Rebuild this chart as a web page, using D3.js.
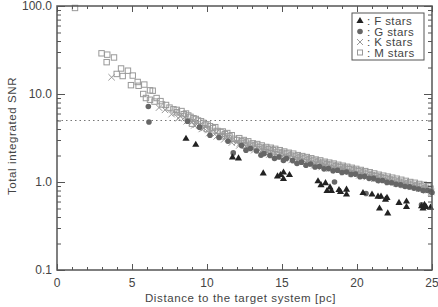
<!DOCTYPE html>
<html>
<head>
<meta charset="utf-8">
<script src="https://cdn.jsdelivr.net/npm/d3@7"></script>
<style>
  body { margin: 0; background: #fff; }
  text { font-family: "Liberation Sans", "DejaVu Sans", sans-serif; fill: #444; }
</style>
</head>
<body>
<svg id="chart"></svg>
<script>
// distance [pc], total integrated SNR
const fStars = [
  [8.6, 3.1], [9.25, 2.65], [11.7, 1.9], [12.1, 1.85], [13.75, 1.25], [14.7, 1.16],
  [14.9, 1.2], [15.1, 1.28], [15.1, 1.08], [15.5, 1.2], [17.4, 1.02], [17.6, 0.92],
  [17.9, 0.97], [18.0, 0.79], [18.2, 0.87], [18.3, 0.79], [18.8, 0.81], [18.9, 0.77],
  [19.3, 0.82], [19.3, 0.72], [20.4, 0.75], [21.0, 0.72], [21.4, 0.68], [21.5, 0.5],
  [21.6, 0.68], [21.9, 0.63], [22.0, 0.66], [22.05, 0.44], [22.8, 0.58], [23.3, 0.6],
  [23.3, 0.52], [24.3, 0.53], [24.4, 0.5], [24.5, 0.55], [24.6, 0.52], [24.9, 0.51]
];
const gStars = [
  [6.09, 7.2], [6.13, 4.8], [8.7, 4.9], [9.5, 4.2], [10.2, 3.4], [10.8, 3.2], [11.4, 2.9],
  [11.75, 2.14], [12.3, 2.6], [12.9, 2.4], [13.3, 2.25], [13.8, 2.1], [14.2, 2.0],
  [14.8, 1.92], [15.3, 1.85], [15.7, 1.75], [16.3, 1.68], [16.9, 1.6], [17.5, 1.5],
  [18.1, 1.42], [18.5, 1.0], [18.7, 1.36], [19.3, 1.3], [19.9, 1.23], [20.5, 1.16],
  [20.6, 0.74], [21.1, 1.1], [21.7, 1.04], [22.3, 0.98], [22.9, 0.93], [23.5, 0.88],
  [24.1, 0.83], [24.3, 0.55], [24.5, 0.53], [24.7, 0.8], [24.9, 0.78],
  [12.6, 2.3], [13.6, 2.02], [14.5, 1.85], [15.1, 1.76], [16.0, 1.62], [16.6, 1.55],
  [17.2, 1.48], [17.8, 1.41], [18.4, 1.34], [19.0, 1.28], [19.6, 1.22], [20.2, 1.15],
  [20.8, 1.1], [21.4, 1.04], [22.0, 0.99], [22.6, 0.94], [23.2, 0.89], [23.8, 0.85],
  [24.4, 0.8], [25.0, 0.76]
];
const kStars = [
  [3.64, 15.5], [7.64, 5.9], [6.8, 7.0], [7.2, 6.6], [7.9, 6.1], [8.2, 5.6], [8.5, 5.4],
  [8.8, 5.0], [9.0, 4.8], [9.3, 4.5], [9.5, 4.4], [9.8, 4.1], [10.1, 3.9], [10.3, 3.8],
  [10.6, 3.6], [10.8, 3.45], [11.1, 3.3], [11.4, 3.15], [11.7, 3.0], [12.0, 2.85],
  [12.2, 2.75], [12.5, 2.65], [12.8, 2.55], [13.1, 2.45], [13.4, 2.38], [13.7, 2.3],
  [14.0, 2.22], [14.3, 2.15], [14.6, 2.1], [14.9, 2.04], [15.2, 1.98], [15.5, 1.93],
  [15.8, 1.88], [16.1, 1.82], [16.4, 1.77], [16.7, 1.72], [17.0, 1.67], [17.3, 1.62],
  [17.6, 1.58], [17.9, 1.54], [18.2, 1.5], [18.5, 1.46], [18.8, 1.42], [19.1, 1.39],
  [19.4, 1.35], [19.7, 1.31], [20.0, 1.28], [20.3, 1.24], [20.6, 1.2], [20.9, 1.16],
  [21.2, 1.13], [21.5, 1.1], [21.8, 1.07], [22.1, 1.04], [22.4, 1.01], [22.7, 0.98],
  [23.0, 0.95], [23.3, 0.93], [23.6, 0.9], [23.9, 0.88], [24.2, 0.85], [24.5, 0.83],
  [24.8, 0.81],
  [8.1, 5.3], [8.65, 4.9], [9.15, 4.4], [9.65, 4.0], [10.15, 3.6], [10.65, 3.3],
  [11.15, 3.05], [11.65, 2.8], [12.15, 2.6], [12.65, 2.45], [13.15, 2.3], [13.65, 2.15],
  [14.15, 2.05], [14.65, 1.95], [15.15, 1.86], [15.65, 1.78], [16.15, 1.7], [16.65, 1.62],
  [17.15, 1.55], [17.65, 1.48], [18.15, 1.42], [18.65, 1.36], [19.15, 1.3], [19.65, 1.24],
  [20.15, 1.19], [20.65, 1.14], [21.15, 1.09], [21.65, 1.04], [22.15, 1.0], [22.65, 0.96],
  [23.15, 0.92], [23.65, 0.88], [24.15, 0.84], [24.65, 0.8], [24.95, 0.77]
];
const mStars = [
  [1.2, 95], [2.97, 29], [3.35, 28], [3.31, 23], [3.8, 26], [4.27, 19.5], [3.98, 16.9],
  [4.38, 16], [4.73, 18.4], [5.05, 16.2], [4.93, 12.6], [5.38, 13.7], [5.44, 12.4],
  [5.82, 12.8], [5.75, 10], [5.93, 9.0], [6.2, 11], [6.38, 10.9], [6.2, 8.6], [6.64, 9.0],
  [6.9, 8.3], [7.27, 7.5], [7.76, 6.7], [7.98, 6.6], [6.5, 8.2], [7.0, 7.6], [7.5, 7.0],
  [8.3, 6.4], [8.6, 6.0], [8.9, 5.5], [9.1, 5.3], [9.4, 5.0], [9.6, 4.9], [9.9, 4.5],
  [10.2, 4.3], [10.4, 4.1], [10.7, 3.8], [10.9, 3.7], [11.2, 3.5], [11.5, 3.3], [11.8, 3.1],
  [12.0, 3.0], [12.3, 2.9], [12.6, 2.8], [12.9, 2.65], [13.2, 2.6], [13.5, 2.5], [13.8, 2.4],
  [14.1, 2.35], [14.4, 2.3], [14.7, 2.2], [15.0, 2.15], [15.3, 2.1], [15.6, 2.0], [15.9, 1.95],
  [16.2, 1.9], [16.5, 1.85], [16.8, 1.8], [17.1, 1.75], [17.4, 1.7], [17.7, 1.65], [18.0, 1.6],
  [18.3, 1.57], [18.6, 1.52], [18.9, 1.48], [19.2, 1.45], [19.5, 1.4], [19.8, 1.37],
  [20.1, 1.33], [20.4, 1.28], [20.7, 1.24], [21.0, 1.2], [21.3, 1.17], [21.6, 1.13],
  [21.9, 1.1], [22.2, 1.07], [22.5, 1.04], [22.8, 1.01], [23.1, 0.98], [23.4, 0.96],
  [23.7, 0.93], [24.0, 0.91], [24.3, 0.89], [24.6, 0.86], [24.9, 0.84],
  [9.0, 4.6], [10.0, 4.0], [11.0, 3.3], [12.5, 2.6], [13.9, 2.2], [16.0, 1.75],
  [17.5, 1.58], [19.0, 1.38], [21.2, 1.1], [23.0, 0.93], [24.5, 0.82],
  [8.0, 6.2], [8.45, 5.9], [8.75, 5.7], [9.25, 5.2], [9.75, 4.7], [10.05, 4.5], [10.55, 4.2],
  [11.05, 3.75], [11.35, 3.6], [11.65, 3.4], [12.15, 3.15], [12.45, 3.0], [12.75, 2.9],
  [13.05, 2.75], [13.35, 2.7], [13.65, 2.6], [13.95, 2.5], [14.25, 2.45], [14.55, 2.38],
  [14.85, 2.3], [15.15, 2.22], [15.45, 2.15], [15.75, 2.1], [16.05, 2.02], [16.35, 1.97],
  [16.65, 1.92], [16.95, 1.86], [17.25, 1.8], [17.55, 1.76], [17.85, 1.7], [18.15, 1.66],
  [18.45, 1.62], [18.75, 1.57], [19.05, 1.53], [19.35, 1.49], [19.65, 1.45], [19.95, 1.41],
  [20.25, 1.37], [20.55, 1.33], [20.85, 1.29], [21.15, 1.25], [21.45, 1.21], [21.75, 1.18],
  [22.05, 1.15], [22.35, 1.12], [22.65, 1.09], [22.95, 1.06], [23.25, 1.03], [23.55, 1.0],
  [23.85, 0.98], [24.15, 0.95], [24.45, 0.93], [24.75, 0.9]
];
const xTicks = [0, 5, 10, 15, 20, 25];
const yTicks = [0.1, 1, 10, 100];
const yTickLabels = ["0.1", "1.0", "10.0", "100.0"];
const threshold = 5;
const legendItems = ["F stars", "G stars", "K stars", "M stars"];

const width = 438, height = 307;
const margin = { top: 6, right: 6, bottom: 37, left: 57 };
const svg = d3.select("#chart").attr("width", width).attr("height", height);

const x = d3.scaleLinear().domain([0, 25]).range([margin.left, width - margin.right]);
const y = d3.scaleLog().domain([0.1, 100]).range([height - margin.bottom, margin.top]);

const axisColor = "#555";

// threshold line
svg.append("line")
  .attr("x1", x(0)).attr("x2", x(25))
  .attr("y1", y(threshold)).attr("y2", y(threshold))
  .attr("stroke", "#777").attr("stroke-width", 1.2)
  .attr("stroke-dasharray", "1.5,3");

// markers
const tri = d3.symbol().type(d3.symbolTriangle).size(22);

svg.append("g").selectAll("rect")
  .data(mStars).enter().append("rect")
  .attr("x", d => x(d[0]) - 2.7).attr("y", d => y(d[1]) - 2.7)
  .attr("width", 5.4).attr("height", 5.4)
  .attr("fill", "none").attr("stroke", "#999").attr("stroke-width", 1);

svg.append("g").selectAll("path")
  .data(kStars).enter().append("path")
  .attr("d", d => {
    const cx = x(d[0]), cy = y(d[1]), r = 3.2;
    return `M${cx - r},${cy - r}L${cx + r},${cy + r}M${cx - r},${cy + r}L${cx + r},${cy - r}`;
  })
  .attr("stroke", "#999").attr("stroke-width", 1);

svg.append("g").selectAll("circle")
  .data(gStars).enter().append("circle")
  .attr("cx", d => x(d[0])).attr("cy", d => y(d[1])).attr("r", 2.8)
  .attr("fill", "#666");

svg.append("g").selectAll("path")
  .data(fStars).enter().append("path")
  .attr("transform", d => `translate(${x(d[0])},${y(d[1])})`)
  .attr("d", tri).attr("fill", "#222");

// frame
svg.append("rect")
  .attr("x", x(0)).attr("y", y(100))
  .attr("width", x(25) - x(0)).attr("height", y(0.1) - y(100))
  .attr("fill", "none").attr("stroke", axisColor).attr("stroke-width", 1.5);

// axes with inward ticks
const xMinor = d3.range(0, 26, 1);
const yMinor = [];
[0.1, 1, 10].forEach(b => { for (let i = 2; i <= 9; i++) yMinor.push(b * i); });

svg.append("g").attr("transform", `translate(0,${y(0.1)})`)
  .call(d3.axisTop(x).tickValues(xMinor).tickSize(3).tickFormat(""))
  .call(g => g.select(".domain").remove());
svg.append("g").attr("transform", `translate(0,${y(0.1)})`)
  .call(d3.axisTop(x).tickValues(xTicks).tickSize(6).tickFormat(""))
  .call(g => g.select(".domain").remove());
svg.append("g").attr("transform", `translate(0,${y(100)})`)
  .call(d3.axisBottom(x).tickValues(xMinor).tickSize(3).tickFormat(""))
  .call(g => g.select(".domain").remove());
svg.append("g").attr("transform", `translate(0,${y(100)})`)
  .call(d3.axisBottom(x).tickValues(xTicks).tickSize(6).tickFormat(""))
  .call(g => g.select(".domain").remove());

svg.append("g").attr("transform", `translate(${x(0)},0)`)
  .call(d3.axisRight(y).tickValues(yMinor).tickSize(4).tickFormat(""))
  .call(g => g.select(".domain").remove());
svg.append("g").attr("transform", `translate(${x(0)},0)`)
  .call(d3.axisRight(y).tickValues(yTicks).tickSize(8).tickFormat(""))
  .call(g => g.select(".domain").remove());
svg.append("g").attr("transform", `translate(${x(25)},0)`)
  .call(d3.axisLeft(y).tickValues(yMinor).tickSize(4).tickFormat(""))
  .call(g => g.select(".domain").remove());
svg.append("g").attr("transform", `translate(${x(25)},0)`)
  .call(d3.axisLeft(y).tickValues(yTicks).tickSize(8).tickFormat(""))
  .call(g => g.select(".domain").remove());

svg.selectAll(".tick line").attr("stroke", axisColor);

// tick labels
svg.append("g").selectAll("text")
  .data(xTicks).enter().append("text")
  .attr("x", d => x(d)).attr("y", y(0.1) + 17)
  .attr("text-anchor", "middle").attr("font-size", 12)
  .text(d => d);

svg.append("g").selectAll("text")
  .data(yTicks).enter().append("text")
  .attr("x", x(0) - 5).attr("y", d => y(d) + 4)
  .attr("text-anchor", "end").attr("font-size", 12)
  .text((d, i) => yTickLabels[i]);

// axis titles
svg.append("text")
  .attr("x", (x(0) + x(25)) / 2 - 4).attr("y", height - 5)
  .attr("text-anchor", "middle").attr("font-size", 11.5)
  .attr("letter-spacing", 0.6)
  .text("Distance to the target system [pc]");

svg.append("text")
  .attr("transform", `translate(16,${(y(0.1) + y(100)) / 2 - 2}) rotate(-90)`)
  .attr("text-anchor", "middle").attr("font-size", 11.5)
  .attr("letter-spacing", 0.6)
  .text("Total integrated SNR");

// legend
const lg = svg.append("g").attr("transform", "translate(352,13)");
lg.append("rect").attr("width", 72).attr("height", 47)
  .attr("fill", "#fff").attr("stroke", axisColor).attr("stroke-width", 1);
legendItems.forEach((name, i) => {
  const cy = 8 + i * 10.5;
  const cx = 8;
  if (i === 0) lg.append("path").attr("transform", `translate(${cx},${cy})`).attr("d", tri).attr("fill", "#222");
  if (i === 1) lg.append("circle").attr("cx", cx).attr("cy", cy).attr("r", 2.8).attr("fill", "#666");
  if (i === 2) lg.append("path")
    .attr("d", `M${cx - 3},${cy - 3}L${cx + 3},${cy + 3}M${cx - 3},${cy + 3}L${cx + 3},${cy - 3}`)
    .attr("stroke", "#999");
  if (i === 3) lg.append("rect").attr("x", cx - 2.5).attr("y", cy - 2.5).attr("width", 5).attr("height", 5)
    .attr("fill", "none").attr("stroke", "#999");
  lg.append("text").attr("x", 15).attr("y", cy + 4).attr("font-size", 11.5)
    .attr("letter-spacing", 0.4)
    .text(": " + name[0] + "  " + name.slice(2));
});
</script>
</body>
</html>
